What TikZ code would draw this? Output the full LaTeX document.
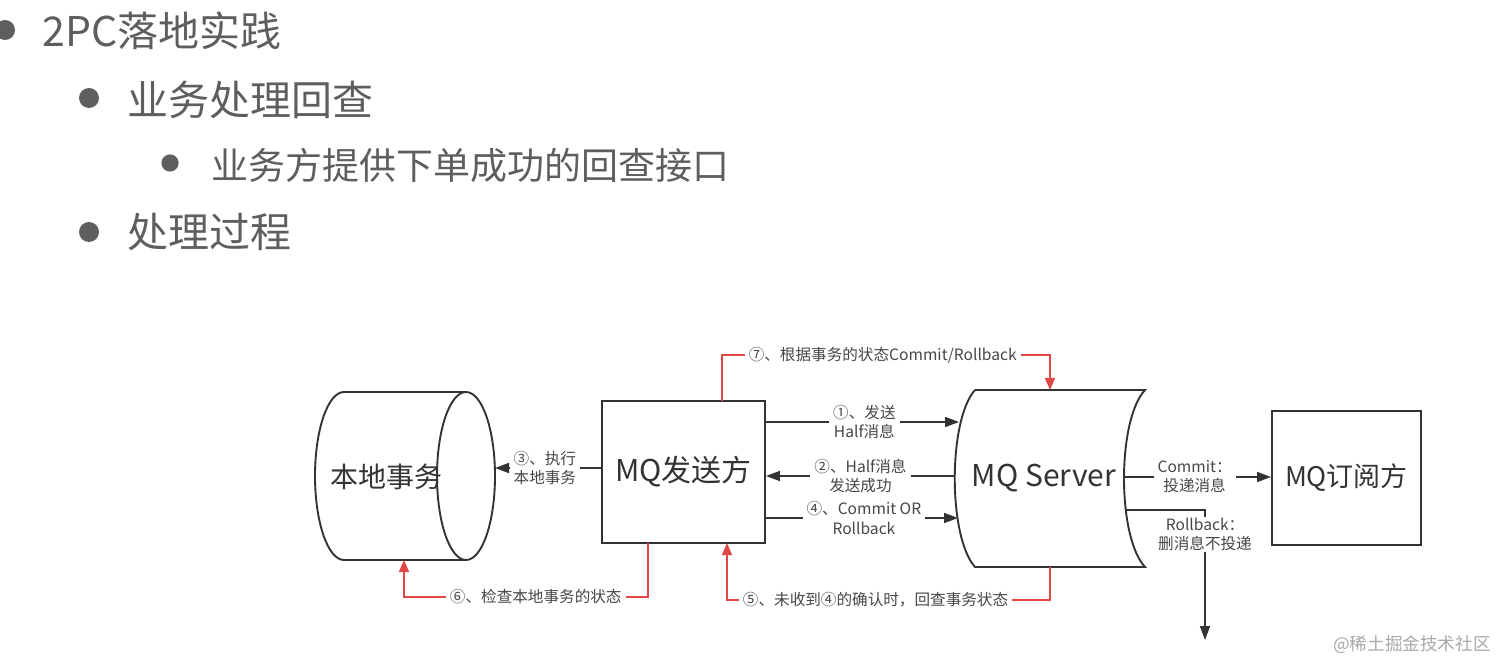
\documentclass[tikz,border=0pt]{standalone}
\usepackage{fontspec}
\setmainfont{Noto Sans CJK SC}
\usetikzlibrary{arrows.meta}
\definecolor{ink}{HTML}{333333}
\definecolor{bul}{HTML}{5E5E5E}
\definecolor{redl}{HTML}{E04848}
\definecolor{wm}{HTML}{A8A8A8}
\tikzset{
  outl/.style={draw=ink, line width=0.95pt},
  boxn/.style={draw=ink, line width=0.95pt, text=ink, font=\fontsize{15}{18}\selectfont, inner sep=0pt},
  conn/.style={draw=ink, line width=0.8pt, -{Triangle[length=7pt,width=5pt]}},
  rconn/.style={draw=redl, line width=0.8pt, -{Triangle[length=6pt,width=5pt]}},
  lbl/.style={fill=white, inner xsep=2pt, inner ysep=0.5pt, text=ink!90, font=\fontsize{7.8}{9.5}\selectfont, align=center},
  bull/.style={fill=bul, draw=none},
  btext/.style={anchor=west, text=bul, inner sep=0pt},
}
\begin{document}
\begin{tikzpicture}[x=0.5pt, y=-0.5pt]
\useasboundingbox (0,0) rectangle (1498,662);
% bullets
\fill[bull] (5,30) circle[radius=5pt];
\node[btext, font=\fontsize{20.5}{24}\selectfont] (t1) at (42,31) {2PC落地实践};
\fill[bull] (89,98) circle[radius=5pt];
\node[btext, font=\fontsize{20.5}{24}\selectfont] (t2) at (127,100) {业务处理回查};
\fill[bull] (170,163) circle[radius=4.3pt];
\node[btext, font=\fontsize{18.5}{22}\selectfont] (t3) at (211,165) {业务方提供下单成功的回查接口};
\fill[bull] (89,232) circle[radius=5pt];
\node[btext, font=\fontsize{20.5}{24}\selectfont] (t4) at (127,232) {处理过程};

% cylinder 本地事务
\draw[outl] (466,392) -- (344,392) arc[start angle=270, end angle=90, x radius=29, y radius=84] -- (466,560);
\draw[outl] (466,476) ellipse[x radius=29, y radius=84];
\node[text=ink, font=\fontsize{14}{17}\selectfont] (local) at (386,477) {本地事务};
\coordinate (cylR) at (495,468);
\coordinate (cylB) at (404,560);

% MQ 发送方
\node[boxn, minimum width=81.5pt, minimum height=71pt] (send) at (683.5,472) {MQ发送方};

% MQ Server
\draw[outl] (975,390) -- (1145,390)
  .. controls (1117,420) and (1117,537) .. (1145,567) -- (975,567)
  .. controls (948,537) and (948,420) .. (975,390);
\node[text=ink, font=\fontsize{15}{18}\selectfont] (server) at (1044,478) {MQ Server};
\coordinate (srvL1) at (959,422);
\coordinate (srvL2) at (955,476);
\coordinate (srvL4) at (958,518);
\coordinate (srvR1) at (1124,477);
\coordinate (srvR2) at (1126,510);
\coordinate (srvT) at (1050,390);
\coordinate (srvB) at (1050,567);

% MQ 订阅方
\node[boxn, font=\fontsize{13.5}{16}\selectfont, minimum width=74.5pt, minimum height=67pt] (sub) at (1346.5,478) {MQ订阅方};

% black connectors
\draw[conn] (send.east |- srvL1) -- node[lbl, pos=0.51] {①、发送\\Half消息} (srvL1);
\draw[conn] (srvL2) -- node[lbl, pos=0.5] {②、Half消息\\发送成功} (send.east |- srvL2);
\draw[conn] (send.east |- srvL4) -- node[lbl, pos=0.51] {④、Commit OR\\Rollback} (srvL4);
\draw[conn] (send.west |- cylR) -- node[lbl, pos=0.53] {③、执行\\本地事务} (cylR);
\draw[conn] (srvR1) -- node[lbl, pos=0.48] {Commit：\\投递消息} (sub.west |- srvR1);
\coordinate (rbEnd) at (1205,640);
\draw[conn] (srvR2) -- (rbEnd |- srvR2) -- node[lbl, pos=0.19] {Rollback：\\删消息不投递} (rbEnd);

% red connectors
\coordinate (s7) at (722,401);
\coordinate (s6) at (648,543);
\coordinate (s5) at (727,543);
\draw[rconn] (s7) -- (722,355) -- node[lbl, pos=0.49] {⑦、根据事务的状态Commit/Rollback} (1050,355) -- (srvT);
\draw[rconn] (s6) -- (648,597) -- node[lbl, pos=0.46] {⑥、检查本地事务的状态} (404,597) -- (cylB);
\draw[rconn] (srvB) -- (1050,600) -- node[lbl, pos=0.54] {⑤、未收到④的确认时，回查事务状态} (727,600) -- (s5);

% watermark
\node[anchor=east, text=wm, font=\fontsize{8.8}{10}\selectfont, inner sep=0pt] (wmk) at (1491,645) {@稀土掘金技术社区};
\end{tikzpicture}
\end{document}
